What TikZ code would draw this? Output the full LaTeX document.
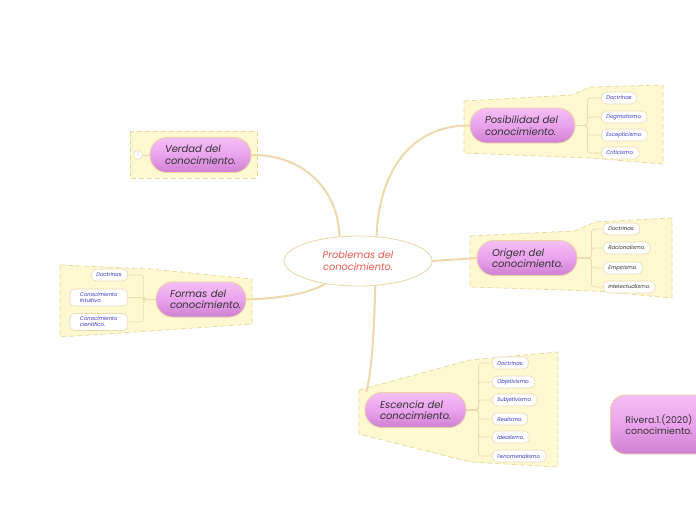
\documentclass[tikz,border=0pt]{standalone}
\usepackage{fontspec}
\setmainfont{Poppins}
\usetikzlibrary{shapes.geometric}
\pgfdeclarelayer{bg}
\pgfdeclarelayer{conn}
\pgfsetlayers{bg,conn,main}
\definecolor{pilltop}{HTML}{F5BEF5}
\definecolor{pillmid}{HTML}{EAA3EC}
\definecolor{pillbot}{HTML}{CF80D2}
\definecolor{pillborder}{HTML}{EBD3A6}
\definecolor{pilltext}{HTML}{333333}
\definecolor{leafborder}{HTML}{EADBB8}
\definecolor{leafblue}{HTML}{3A35C8}
\definecolor{leafdark}{HTML}{333333}
\definecolor{conncol}{HTML}{EDD9AE}
\definecolor{areafill}{HTML}{FFF8D0}
\definecolor{areaborder}{HTML}{E6D69C}
\definecolor{ctrtext}{HTML}{E8584F}
\definecolor{ctrborder}{HTML}{E9D5A6}
\tikzset{
  pill/.style={rounded corners=17pt, draw=pillborder, line width=0.8pt,
    top color=pilltop, bottom color=pillbot, middle color=pillmid,
    minimum height=35pt, inner xsep=15pt, inner ysep=0pt, align=left,
    font=\fontsize{10}{11.5}\selectfont\itshape, text=pilltext},
  leaf/.style={rounded corners=5pt, draw=leafborder, fill=white, line width=0.6pt,
    minimum height=12pt, inner xsep=5pt, inner ysep=1pt,
    font=\fontsize{5.3}{6}\selectfont\itshape, text=leafblue, align=left},
  conn/.style={draw=conncol, line width=2pt},
  branch/.style={draw=conncol, line width=0.7pt, rounded corners=3pt},
  area/.style={fill=areafill, draw=areaborder, dash pattern=on 5pt off 3pt, line width=0.7pt},
}
\begin{document}
\begin{tikzpicture}[x=1pt,y=-1pt]
\clip (0,0) rectangle (696,520);

% background areas
\begin{pgfonlayer}{bg}
\fill[white] (0,0) rectangle (696,520);
\path[area] (130,131) rectangle (257,178);
\path[area] (464,101) -- (572,95) -- (590,87) -- (663,85) -- (663,164) -- (590,158) -- (464,153) -- cycle;
\path[area] (470,236) -- (575,231) -- (595,222) -- (672,218) -- (672,298) -- (595,291) -- (470,287) -- cycle;
\path[area] (60,265) -- (150,269) -- (252,279) -- (252,324) -- (150,331) -- (60,337) -- cycle;
\path[area] (359,390) -- (470,360) -- (558,352) -- (558,467) -- (470,462) -- (359,434) -- cycle;
\end{pgfonlayer}

% central node
\node[ellipse, draw=ctrborder, line width=0.8pt, fill=white, minimum width=148pt, minimum height=50pt,
  inner sep=0pt, align=center, text=ctrtext, font=\fontsize{9.8}{11.5}\selectfont\itshape] (ctr) at (358,261)
  {Problemas del\\conocimiento.};

% main topics
\node[pill, text width=71pt] (verdad) at (200.5,155) {Verdad del\\conocimiento.};
\node[pill, text width=75pt] (posib) at (522.5,125.5) {Posibilidad del\\conocimiento.};
\node[pill, text width=70pt] (origen) at (527,258) {Origen del\\conocimiento.};
\node[pill, text width=62pt, inner xsep=14pt] (formas) at (201,299.5) {Formas del\\conocimiento.};
\node[pill, text width=71pt] (escencia) at (415.5,410) {Escencia del\\conocimiento.};

\node[circle, draw=leafborder, fill=white, line width=0.6pt, minimum size=9pt, inner sep=0pt,
  text=black!15, font=\fontsize{5}{5}\selectfont] (vc) at (138,155) {2};

% Posibilidad leaves
\node[leaf, anchor=west] (p1) at (601,98) {Doctrinas};
\node[leaf, anchor=west] (p2) at (601,117) {Dogmatismo.};
\node[leaf, anchor=west] (p3) at (601,135) {Escepticismo.};
\node[leaf, anchor=west] (p4) at (601,153) {Criticismo.};

% Origen leaves
\node[leaf, anchor=west, text=leafdark] (o1) at (603,229) {Doctrinas.};
\node[leaf, anchor=west, text=leafdark] (o2) at (603,248) {Racionalismo.};
\node[leaf, anchor=west, text=leafdark] (o3) at (603,268) {Empirismo.};
\node[leaf, anchor=west, text=leafdark] (o4) at (603,287) {Intelectualismo.};

% Escencia leaves
\node[leaf, anchor=west] (e1) at (492,363) {Doctrinas.};
\node[leaf, anchor=west] (e2) at (492,382) {Objetivismo.};
\node[leaf, anchor=west] (e3) at (492,400) {Subjetivismo.};
\node[leaf, anchor=west] (e4) at (492,419) {Realismo.};
\node[leaf, anchor=west] (e5) at (492,437) {Idealismo.};
\node[leaf, anchor=west] (e6) at (492,456) {Fenomenalismo.};

% Formas leaves
\node[leaf, anchor=east] (f1) at (128,275) {Doctrinas.};
\node[leaf, anchor=east, minimum height=17pt, minimum width=58pt] (f2) at (128,297.5) {Conocimiento\\intuitivo.};
\node[leaf, anchor=east, minimum height=17pt, minimum width=58pt] (f3) at (128,322) {Conocimiento\\científico.};

% Rivera
\node[pill, rounded corners=15pt, minimum width=120pt, minimum height=59pt, anchor=west,
  font=\fontsize{9.4}{11.5}\selectfont, text width=90pt] (rivera) at (610,424.5)
  {Rivera.1.(2020)\\conocimiento.};

% connectors
\begin{pgfonlayer}{conn}
\draw[conn] (verdad.east) .. controls (298,154) and (338,185) .. (ctr.127);
\draw[conn] (posib.west) .. controls (412,125) and (379,170) .. (ctr.53);
\draw[conn] (ctr.east) -- (origen.west);
\draw[conn] (formas.east) .. controls (292,298) and (312,291) .. (ctr.215);
\draw[conn] (ctr.305) .. controls (374,330) and (372,370) .. (escencia.160);
\draw[branch] (vc.east) -- (verdad.west);
\foreach \c in {p1,p2,p3,p4} \draw[branch] (posib.east) -- ++(12,0) |- (\c.west);
\foreach \c in {o1,o2,o3,o4} \draw[branch] (origen.east) -- ++(14,0) |- (\c.west);
\foreach \c in {e1,e2,e3,e4,e5,e6} \draw[branch] (escencia.east) -- ++(12,0) |- (\c.west);
\foreach \c in {f1,f2,f3} \draw[branch] (formas.west) -- ++(-12,0) |- (\c.east);
\end{pgfonlayer}
\end{tikzpicture}
\end{document}
